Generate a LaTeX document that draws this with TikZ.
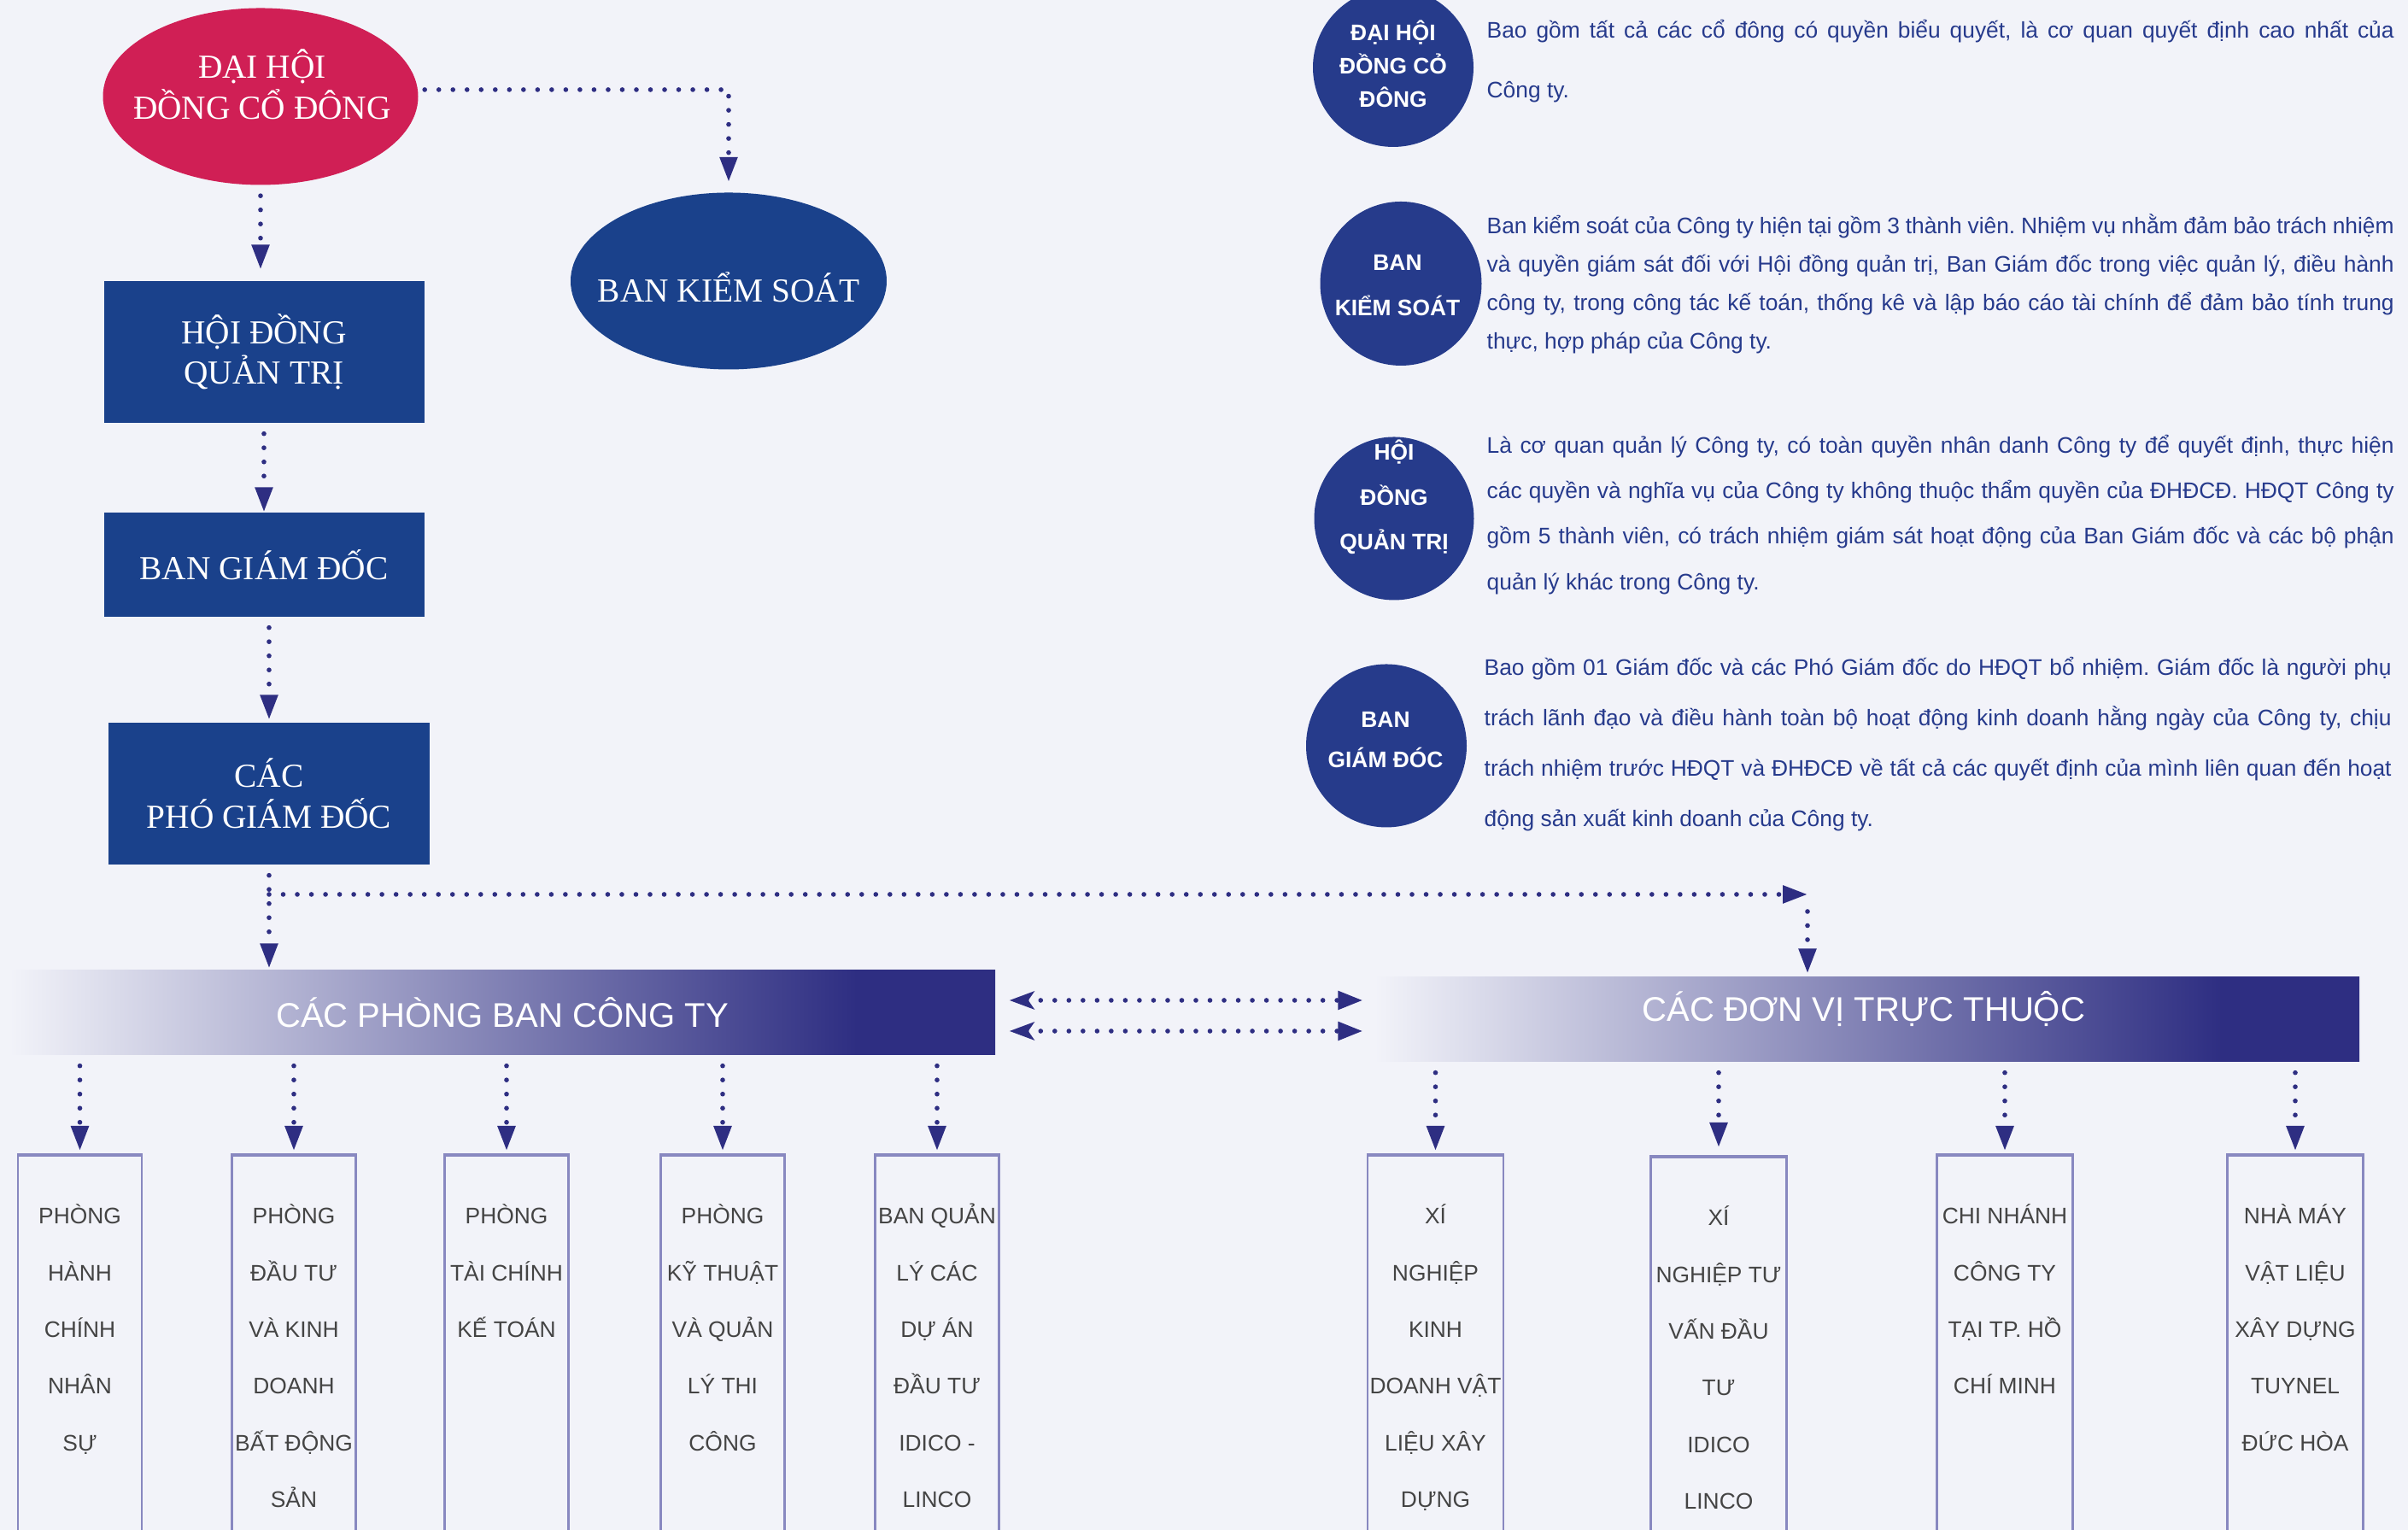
\documentclass[tikz,border=0pt]{standalone}
\usepackage{fontspec}
\setmainfont{Liberation Serif}
\setsansfont{Liberation Sans}
\usepackage{tikz}
\usetikzlibrary{arrows.meta,shapes.geometric,positioning}
%
\definecolor{cbg}{RGB}{242,243,249}
\definecolor{cred}{RGB}{208,31,85}
\definecolor{cbox}{RGB}{26,65,139}
\definecolor{cdisc}{RGB}{38,59,139}
\definecolor{cline}{RGB}{46,46,130}
\definecolor{cbar}{RGB}{46,46,130}
\definecolor{cunit}{RGB}{136,136,192}
\definecolor{cunittext}{RGB}{68,68,68}
\definecolor{cinfo}{RGB}{38,58,140}
\pgfdeclarehorizontalshading{barfade}{100bp}{color(0bp)=(cbg); color(25bp)=(cbg); color(68bp)=(cbar); color(100bp)=(cbar)}
%
\tikzset{
  conn/.style={draw=cline, line width=1.6pt, line cap=round, dash pattern=on 0pt off 4.7pt,
    -{Triangle[length=2.9mm,width=2mm]}, shorten <=1.2mm},
  twoway/.style={conn, {Stealth[length=2.9mm,width=2.1mm,inset=0.7mm]}-{Triangle[length=2.9mm,width=2.1mm]}},
  redoval/.style={ellipse, fill=cred, inner sep=0pt, minimum width=3.69cm, minimum height=2.07cm},
  blueoval/.style={redoval, fill=cbox},
  chaintext/.style={text=white, inner sep=0pt, align=center, font=\fontsize{11.2}{13.5}\selectfont},
  bluebox/.style={rectangle, fill=cbox, chaintext, minimum width=3.75cm},
  barnode/.style={rectangle, shade, shading=barfade, inner sep=0pt, minimum height=0.99cm,
    text=white, font=\sffamily\fontsize{11.4}{13}\selectfont},
  bartext/.style={text=white, inner sep=0pt, font=\sffamily\fontsize{11.4}{13}\selectfont},
  infodisc/.style={ellipse, fill=cdisc, inner sep=0pt},
  infohead/.style={text=white, inner sep=0pt, align=center, font=\sffamily\bfseries\fontsize{7.5}{#1}\selectfont},
  infotext/.style={text=cinfo, inner sep=0pt, anchor=north west, text width=10.62cm, align=justify,
    font=\sffamily\fontsize{7.5}{#1}\selectfont\frenchspacing},
  unitbox/.style={rectangle, draw=cunit, line width=0.6pt, anchor=north, minimum height=4.6cm},
  unittop/.style={draw=cunit, line width=1.2pt},
  unittext/.style={text=cunittext, inner sep=0pt, align=center, font=\sffamily\fontsize{7.5}{18.9}\selectfont}
}
\begin{document}
\begin{tikzpicture}
%
\useasboundingbox (0,0) rectangle (28.19,17.91);
\fill[cbg] (0,0) rectangle (28.19,17.91);
%
% left chain
\node[redoval] (dhdcd) at (3.05,16.78) {};
\node[chaintext] (dhdcdt) at (3.07,16.92) {ĐẠI HỘI\\ĐỒNG CỔ ĐÔNG};
\node[blueoval, minimum width=3.70cm] (bks) at (8.53,14.62) {};
\node[chaintext] (bkst) at (8.53,14.55) {BAN KIỂM SOÁT};
\node[bluebox, minimum height=1.66cm] (hdqt) at (3.09,13.79) {HỘI ĐỒNG\\QUẢN TRỊ};
\node[bluebox, minimum height=1.22cm] (bgd) at (3.09,11.30) {BAN GIÁM ĐỐC};
\node[bluebox, minimum height=1.66cm, minimum width=3.76cm] (pgd) at (3.15,8.62) {CÁC\\PHÓ GIÁM ĐỐC};
%
% bars
\node[barnode, minimum width=11.54cm] (phongban) at (5.88,6.055) {CÁC PHÒNG BAN CÔNG TY};
\node[barnode, minimum width=11.53cm] (donvi) at (21.855,5.975) {};
\node[bartext] (donvit) at (21.82,6.10) {CÁC ĐƠN VỊ TRỰC THUỘC};
%
% right column
\node[infodisc, minimum width=1.88cm, minimum height=1.86cm] (d1) at (16.31,17.12) {};
\node[infodisc, minimum width=1.89cm, minimum height=1.92cm] (d2) at (16.40,14.59) {};
\node[infodisc, minimum width=1.87cm, minimum height=1.91cm] (d3) at (16.32,11.84) {};
\node[infodisc, minimum width=1.88cm, minimum height=1.91cm] (d4) at (16.23,9.18) {};
\node[infohead=11.1] (d1t) at (16.31,17.165) {ĐẠI HỘI\\ĐỒNG CỎ\\ĐÔNG};
\node[infohead=15] (d2t) at (16.36,14.57) {BAN\\KIỂM SOÁT};
\node[infohead=15] (d3t) at (16.32,12.09) {HỘI\\ĐỒNG\\QUẢN TRỊ};
\node[infohead=13.4] (d4t) at (16.22,9.25) {BAN\\GIÁM ĐÓC};
%
\node[infotext=19.9] (p1) at (17.40,17.96) {\strut Bao gồm tất cả các cổ đông có quyền biểu quyết, là cơ quan quyết định cao nhất của\linebreak
Công ty.};
\node[infotext=12.8] (p2) at (17.40,15.496) {\strut Ban kiểm soát của Công ty hiện tại gồm 3 thành viên. Nhiệm vụ nhằm đảm bảo trách nhiệm\linebreak
và quyền giám sát đối với Hội đồng quản trị, Ban Giám đốc trong việc quản lý, điều hành\linebreak
công ty, trong công tác kế toán, thống kê và lập báo cáo tài chính để đảm bảo tính trung\linebreak
thực, hợp pháp của Công ty.};
\node[infotext=15.2] (p3) at (17.40,12.99) {\strut Là cơ quan quản lý Công ty, có toàn quyền nhân danh Công ty để quyết định, thực hiện\linebreak
các quyền và nghĩa vụ của Công ty không thuộc thẩm quyền của ĐHĐCĐ. HĐQT Công ty\linebreak
gồm 5 thành viên, có trách nhiệm giám sát hoạt động của Ban Giám đốc và các bộ phận\linebreak
quản lý khác trong Công ty.};
\node[infotext=16.8] (p4) at (17.37,10.43) {\strut Bao gồm 01 Giám đốc và các Phó Giám đốc do HĐQT bổ nhiệm. Giám đốc là người phụ\linebreak
trách lãnh đạo và điều hành toàn bộ hoạt động kinh doanh hằng ngày của Công ty, chịu\linebreak
trách nhiệm trước HĐQT và ĐHĐCĐ về tất cả các quyết định của mình liên quan đến hoạt\linebreak
động sản xuất kinh doanh của Công ty.};
%
% units
\node[unitbox, minimum width=1.45cm] (pb1) at (0.935,4.39) {};
\node[unitbox, minimum width=1.45cm] (pb2) at (3.44,4.39) {};
\node[unitbox, minimum width=1.45cm] (pb3) at (5.93,4.39) {};
\node[unitbox, minimum width=1.45cm] (pb4) at (8.46,4.39) {};
\node[unitbox, minimum width=1.45cm] (pb5) at (10.97,4.39) {};
\node[unitbox, minimum width=1.59cm] (dv1) at (16.805,4.39) {};
\node[unitbox, minimum width=1.59cm] (dv2) at (20.12,4.37) {};
\node[unitbox, minimum width=1.59cm] (dv3) at (23.47,4.39) {};
\node[unitbox, minimum width=1.59cm] (dv4) at (26.87,4.39) {};
\draw[unittop] (pb1.north west) -- (pb1.north east) (pb2.north west) -- (pb2.north east)
  (pb3.north west) -- (pb3.north east) (pb4.north west) -- (pb4.north east)
  (pb5.north west) -- (pb5.north east) (dv1.north west) -- (dv1.north east)
  (dv2.north west) -- (dv2.north east) (dv3.north west) -- (dv3.north east)
  (dv4.north west) -- (dv4.north east);
%
\node[unittext, below=0.335cm of pb1.north] (pb1t) {\strut PHÒNG\\HÀNH\\CHÍNH\\NHÂN\\SỰ};
\node[unittext, below=0.335cm of pb2.north] (pb2t) {\strut PHÒNG\\ĐẦU TƯ\\VÀ KINH\\DOANH\\BẤT ĐỘNG\\SẢN};
\node[unittext, below=0.335cm of pb3.north] (pb3t) {\strut PHÒNG\\TÀI CHÍNH\\KẾ TOÁN};
\node[unittext, below=0.335cm of pb4.north] (pb4t) {\strut PHÒNG\\KỸ THUẬT\\VÀ QUẢN\\LÝ THI\\CÔNG};
\node[unittext, below=0.335cm of pb5.north] (pb5t) {\strut BAN QUẢN\\LÝ CÁC\\DỰ ÁN\\ĐẦU TƯ\\IDICO -\\LINCO};
\node[unittext, below=0.335cm of dv1.north] (dv1t) {\strut XÍ\\NGHIỆP\\KINH\\DOANH VẬT\\LIỆU XÂY\\DỰNG};
\node[unittext, below=0.335cm of dv2.north] (dv2t) {\strut XÍ\\NGHIỆP TƯ\\VẤN ĐẦU\\TƯ\\IDICO\\LINCO};
\node[unittext, below=0.335cm of dv3.north] (dv3t) {\strut CHI NHÁNH\\CÔNG TY\\TẠI TP. HỒ\\CHÍ MINH};
\node[unittext, below=0.335cm of dv4.north] (dv4t) {\strut NHÀ MÁY\\VẬT LIỆU\\XÂY DỰNG\\TUYNEL\\ĐỨC HÒA};
%
% connectors
\coordinate (split) at (3.15,7.44);
\coordinate (turn) at (21.16,7.44);
\coordinate (linkA) at ([yshift=1.45mm]phongban.east);
\coordinate (linkB) at ([yshift=-2.15mm]phongban.east);
%
\draw[conn, shorten >=1.3mm] (dhdcd.south) -- (dhdcd.south |- hdqt.north);
\draw[conn, shorten <=0.7mm, shorten >=1.2mm] ([yshift=0.8mm]dhdcd.east) -| (bks.north);
\draw[conn] (bgd.north |- hdqt.south) -- (bgd.north);
\draw[conn, shorten >=0.3mm] (pgd.north |- bgd.south) -- (pgd.north);
\draw[conn, shorten >=0.2mm] (pgd.south) -- (pgd.south |- phongban.north);
\draw[conn, shorten <=0pt] (split) -- (turn);
\draw[conn, shorten <=2mm, shorten >=0.4mm] (turn) -- (turn |- donvi.north);
\draw[twoway, shorten <=1.6mm, shorten >=1.3mm] (linkA) -- (linkA -| donvi.west);
\draw[twoway, shorten <=1.6mm, shorten >=1.3mm] (linkB) -- (linkB -| donvi.west);
%
\draw[conn, shorten >=0.5mm] (pb1.north |- phongban.south) -- (pb1.north);
\draw[conn, shorten >=0.5mm] (pb2.north |- phongban.south) -- (pb2.north);
\draw[conn, shorten >=0.5mm] (pb3.north |- phongban.south) -- (pb3.north);
\draw[conn, shorten >=0.5mm] (pb4.north |- phongban.south) -- (pb4.north);
\draw[conn, shorten >=0.5mm] (pb5.north |- phongban.south) -- (pb5.north);
\draw[conn, shorten >=0.5mm] (dv1.north |- donvi.south) -- (dv1.north);
\draw[conn, shorten >=1.1mm] (dv2.north |- donvi.south) -- (dv2.north);
\draw[conn, shorten >=0.5mm] (dv3.north |- donvi.south) -- (dv3.north);
\draw[conn, shorten >=0.5mm] (dv4.north |- donvi.south) -- (dv4.north);
%
\end{tikzpicture}
\end{document}
